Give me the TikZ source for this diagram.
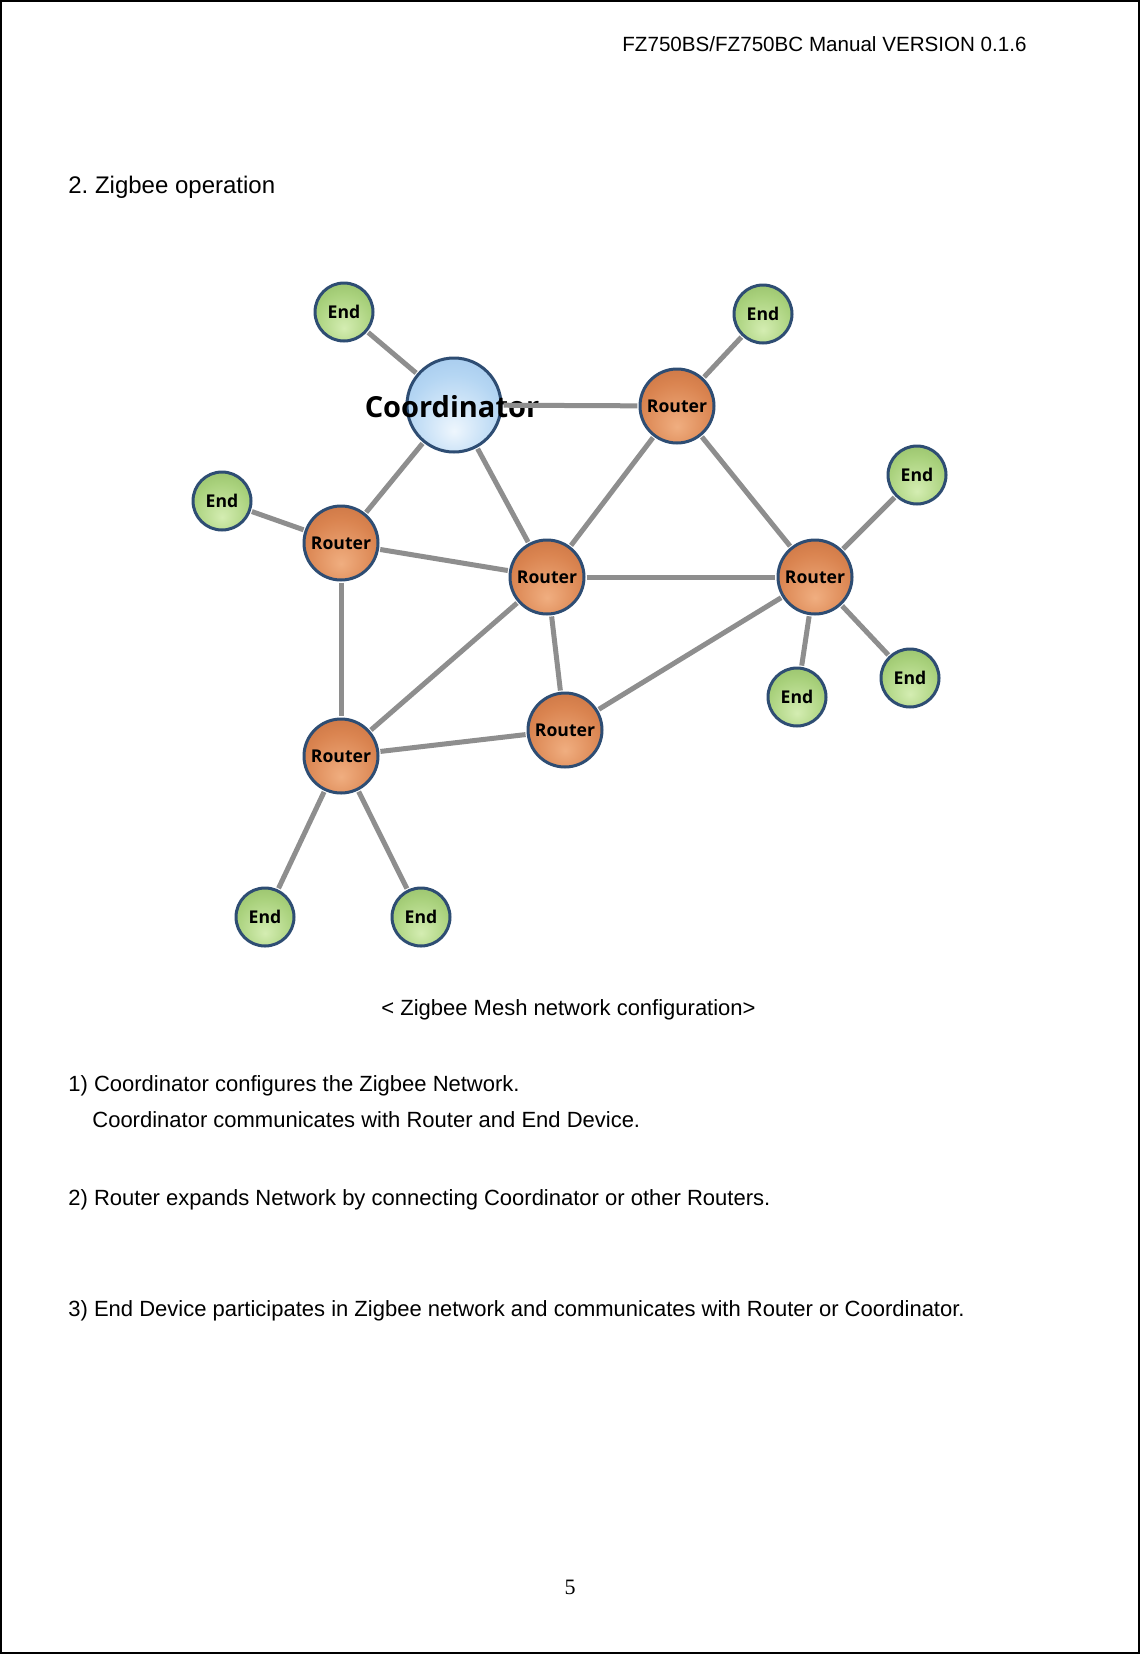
\documentclass[tikz,border=0pt]{standalone}
\usepackage{fontspec}
\setmainfont{Liberation Sans}
\newfontfamily\labelfont{Open Sans}
\newfontfamily\numfont{Liberation Serif}
\usepackage{tikz}
\usetikzlibrary{backgrounds}
\frenchspacing

\definecolor{endlight}{HTML}{D4EDB2}
\definecolor{endmid}{HTML}{A9D17C}
\definecolor{enddark}{HTML}{6F9B45}
\definecolor{routerlight}{HTML}{F0AE80}
\definecolor{routermid}{HTML}{DA8450}
\definecolor{routerdark}{HTML}{A9542A}
\definecolor{coordlight}{HTML}{EEF6FD}
\definecolor{coordmid}{HTML}{B5D6F3}
\definecolor{coorddark}{HTML}{7FAEE0}
\definecolor{rimblue}{HTML}{2E4D73}
\definecolor{linkgray}{HTML}{8E8E8E}

\pgfdeclareradialshading{endshade}{\pgfpoint{0bp}{-14bp}}{color(0bp)=(endlight); color(25bp)=(endmid); color(62bp)=(enddark); color(70bp)=(enddark)}
\pgfdeclareradialshading{routershade}{\pgfpoint{0bp}{-14bp}}{color(0bp)=(routerlight); color(25bp)=(routermid); color(62bp)=(routerdark); color(70bp)=(routerdark)}
\pgfdeclareradialshading{coordshade}{\pgfpoint{0bp}{-14bp}}{color(0bp)=(coordlight); color(25bp)=(coordmid); color(62bp)=(coorddark); color(70bp)=(coorddark)}

\tikzset{
  device/.style={circle,draw=rimblue,line width=1.5pt,inner sep=0pt},
  endnode/.style={device,minimum size=29pt,shading=endshade,font=\labelfont\bfseries\fontsize{8.8}{10}\selectfont},
  routernode/.style={device,minimum size=37pt,shading=routershade,font=\labelfont\bfseries\fontsize{8.8}{10}\selectfont},
  coordnode/.style={device,minimum size=47pt,shading=coordshade},
  link/.style={draw=linkgray,line width=2.5pt,shorten <=0.6pt,shorten >=0.6pt},
  txt/.style={anchor=base west,inner sep=0pt,font=\fontsize{11}{13}\selectfont}
}

\begin{document}
\begin{tikzpicture}[x=0.5pt,y=-0.5pt]
        \useasboundingbox (0,0) rectangle (1140,1654);
        \fill[white] (0,0) rectangle (1140,1654);
        \draw[line width=1pt] (1,1) rectangle (1139,1653);

        \node[txt,font=\fontsize{10.3}{12}\selectfont] (header) at (622,51) {FZ750BS/FZ750BC Manual VERSION 0.1.6};
        \node[txt,font=\fontsize{12}{14}\selectfont] (title) at (68,193) {2. Zigbee operation};

        \node[coordnode] (coord) at (454,405) {};
        \node[font=\labelfont\bfseries\fontsize{14.5}{16}\selectfont,inner sep=0pt] (coordlabel) at (452,407) {Coordinator};

        \node[endnode] (e1) at (344,312) {End};
        \node[endnode] (e2) at (763,314) {End};
        \node[routernode] (r1) at (677,406) {Router};
        \node[endnode] (e3) at (222,501) {End};
        \node[routernode] (r2) at (341,543) {Router};
        \node[routernode] (r3) at (547,577) {Router};
        \node[routernode] (r4) at (815,577) {Router};
        \node[endnode] (e4) at (917,475) {End};
        \node[endnode] (e5) at (910,678) {End};
        \node[endnode] (e6) at (797,697) {End};
        \node[routernode] (r5) at (565,730) {Router};
        \node[routernode] (r6) at (341,756) {Router};
        \node[endnode] (e7) at (265,917) {End};
        \node[endnode] (e8) at (421,917) {End};

        \draw[link] (coord) -- (e1);
        \draw[link] (coord) -- (r1);
        \draw[link] (coord) -- (r2);
        \draw[link] (coord) -- (r3);
        \draw[link] (r1) -- (e2);
        \draw[link] (r1) -- (r3);
        \draw[link] (r1) -- (r4);
        \draw[link] (r2) -- (e3);
        \draw[link] (r2) -- (r3);
        \draw[link] (r2) -- (r6);
        \draw[link] (r3) -- (r4);
        \draw[link] (r3) -- (r5);
        \draw[link] (r3) -- (r6);
        \draw[link] (r4) -- (e4);
        \draw[link] (r4) -- (e5);
        \draw[link] (r4) -- (e6);
        \draw[link] (r4) -- (r5);
        \draw[link] (r5) -- (r6);
        \draw[link] (r6) -- (e7);
        \draw[link] (r6) -- (e8);

        \node[txt] (caption) at (381,1015) {< Zigbee Mesh network configuration>};
        \node[txt] (step1) at (68,1091) {1) Coordinator configures the Zigbee Network.};
        \node[txt] (step1b) at (92,1127) {Coordinator communicates with Router and End Device.};
        \node[txt] (step2) at (68,1205) {2) Router expands Network by connecting Coordinator or other Routers.};
        \node[txt] (step3) at (68,1316) {3) End Device participates in Zigbee network and communicates with Router or Coordinator.};

        \node[anchor=base,inner sep=0pt,font=\numfont\fontsize{11}{13}\selectfont] (pagenum) at (570,1594) {5};
      \end{tikzpicture}
\end{document}
